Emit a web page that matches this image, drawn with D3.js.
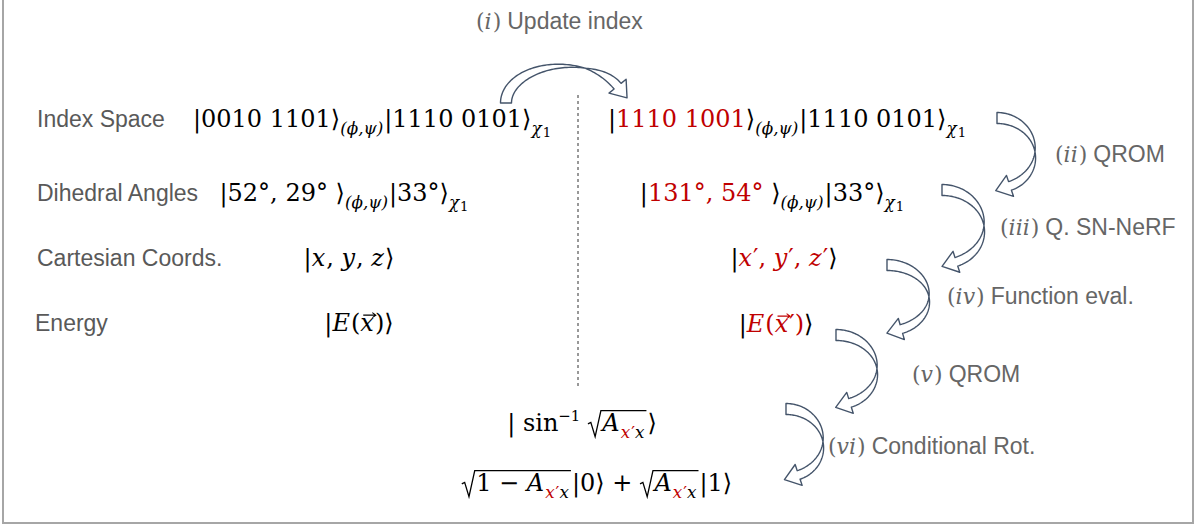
<!DOCTYPE html>
<html><head><meta charset="utf-8">
<script src="https://cdn.jsdelivr.net/npm/d3@7"></script>
<style>body{margin:0;background:#fff} text{white-space:pre}</style>
</head><body>
<svg id="c" width="1199" height="527"></svg>
<script>
// ---------- data ----------
const RED = "#c00000";
const rowLabels = ["Index Space", "Dihedral Angles", "Cartesian Coords.", "Energy"];
const phiPsi = {t: "(ϕ,ψ)", sub: 1, i: 1};
const chi1 = [{t: "χ", sub: 1, i: 1}, {t: "1", sub2: 1}];
const leftStates = [
  [{t: "|0010 1101⟩"}, phiPsi, {t: "|1110 0101⟩"}, ...chi1],
  [{t: "|52°, 29° ⟩"}, phiPsi, {t: "|33°⟩"}, ...chi1],
  [{t: "|"}, {t: "x", i: 1}, {t: ", "}, {t: "y", i: 1}, {t: ", "}, {t: "z", i: 1}, {t: "⟩"}],
  [{t: "|"}, {t: "E", i: 1}, {t: "("}, {t: "x", i: 1, vec: 1}, {t: ")"}, {t: "⟩"}]
];
const rightStates = [
  [{t: "|"}, {t: "1110 1001", c: RED}, {t: "⟩"}, phiPsi, {t: "|1110 0101⟩"}, ...chi1],
  [{t: "|"}, {t: "131°, 54°", c: RED}, {t: " ⟩"}, phiPsi, {t: "|33°⟩"}, ...chi1],
  [{t: "|"}, {t: "x", i: 1, c: RED}, {t: "′", c: RED}, {t: ", ", c: RED}, {t: "y", i: 1, c: RED}, {t: "′", c: RED}, {t: ", ", c: RED}, {t: "z", i: 1, c: RED}, {t: "′", c: RED}, {t: "⟩"}],
  [{t: "|"}, {t: "E", i: 1, c: RED}, {t: "(", c: RED}, {t: "x", i: 1, vec: 1, c: RED}, {t: "′", c: RED}, {t: ")", c: RED}, {t: "⟩"}]
];
const amp = [{t: "A", i: 1}, {t: "x", sub: 1, i: 1, c: RED}, {t: "′", sub: 1, c: RED}, {t: "x", sub: 1, i: 1}];
const ancillaStates = [
  [{t: "| sin"}, {t: "−1", sup: 1}, {t: " "}, {rad: amp}, {t: "⟩"}],
  [{rad: [{t: "1 − "}, ...amp]}, {t: "|0⟩ + "}, {rad: amp}, {t: "|1⟩"}]
];
const stepNumerals = ["i", "ii", "iii", "iv", "v", "vi"];
const stepNames = ["Update index", "QROM", "Q. SN-NeRF", "Function eval.", "QROM", "Conditional Rot."];

// ---------- layout ----------
const rowY = [127, 201, 266, 331];
const labelX = [37, 37, 37, 35];
const leftCX = [372, 344, 349, 359];      // centre x of each formula
const rightCX = [787, 772, 784, 776];
const ancillaPos = [[582, 431], [597, 491]];
const stepPos = [[476, 29], [1055, 162], [1000, 235], [947, 304], [912, 382], [828, 454]];
// arrows: ellipse centre, radii, start/end angle (deg), twist position
const arrowGeom = [
  {cx: 565, cy: 103, a: 59, b: 37, t0: 180, t1: 333, tc: 0.72},
  {cx: 997, cy: 153, a: 38, b: 35, t0: -90, t1: 70, tc: 0.55},
  {cx: 942, cy: 227, a: 42, b: 37, t0: -90, t1: 70, tc: 0.55},
  {cx: 887, cy: 298, a: 42, b: 33, t0: -90, t1: 70, tc: 0.55},
  {cx: 836, cy: 370, a: 41, b: 35, t0: -90, t1: 70, tc: 0.55},
  {cx: 786, cy: 443, a: 37, b: 34, t0: -90, t1: 70, tc: 0.55}
];

const MATH = "'DejaVu Serif','Liberation Serif',serif";
const SANS = "'Liberation Sans',Arimo,Arial,sans-serif";
const LABEL = "#595959", STEP = "#666666", ARROW = "#44546a";
const MBASE = 24;

const svg = d3.select("#c");
svg.append("rect").attr("x", 3).attr("y", -2).attr("width", 1190).attr("height", 525)
  .attr("fill", "#fff").attr("stroke", "#a6a6a6").attr("stroke-width", 2);

const yScale = d3.scaleOrdinal().domain(rowLabels).range(rowY);

// dashed divider
svg.append("line").attr("x1", 578).attr("x2", 578).attr("y1", 95).attr("y2", 388)
  .attr("stroke", "#333").attr("stroke-width", 1).attr("stroke-dasharray", "3,3");

function renderRun(g, segs, x0, y, base, color) {
  let x = x0;
  for (const s of segs) {
    if (s.rad) {
      const rx = x;
      x += base * 0.6;
      x = renderRun(g, s.rad, x, y, base, color);
      const top = y - base * 0.85;
      g.append("path")
        .attr("d", `M${rx},${y - base * 0.3} L${rx + base * 0.12},${y - base * 0.36} L${rx + base * 0.3},${y + base * 0.24} L${rx + base * 0.54},${top} H${x + 1}`)
        .attr("fill", "none").attr("stroke", color).attr("stroke-width", 1.3).attr("stroke-linejoin", "miter");
      x += 2;
      continue;
    }
    let size = base, dy = 0;
    if (s.sub) { size = base * 0.7; dy = base * 0.3; }
    if (s.sub2) { size = base * 0.55; dy = base * 0.42; }
    if (s.sup) { size = base * 0.62; dy = -base * 0.42; }
    const t = g.append("text").attr("x", x).attr("y", y + dy)
      .attr("font-family", MATH).attr("font-size", size)
      .attr("font-style", s.i ? "italic" : "normal")
      .attr("fill", s.c || color).text(s.t);
    const w = t.node().getComputedTextLength();
    if (s.vec) {
      const ya = y - size * 0.66, x1 = x + size * 0.12, x2 = x + w + size * 0.08;
      g.append("path").attr("d", `M${x1},${ya} H${x2} M${x2 - 3.5},${ya - 2.5} L${x2},${ya} L${x2 - 3.5},${ya + 2.5}`)
        .attr("fill", "none").attr("stroke", s.c || color).attr("stroke-width", 1.1);
    }
    x += w + (s.i ? 1 : 0);
  }
  return x;
}
// render a formula centred on cx
function renderCentered(parent, segs, cx, y, base, color) {
  const g = parent.append("g");
  const end = renderRun(g, segs, 0, y, base, color);
  g.attr("transform", `translate(${cx - end / 2},0)`);
}

// row labels
svg.selectAll("text.label").data(rowLabels).join("text").attr("class", "label")
  .attr("x", (d, i) => labelX[i]).attr("y", d => yScale(d))
  .attr("font-family", SANS).attr("font-size", 23).attr("fill", LABEL).text(d => d);

const gm = svg.append("g");
leftStates.forEach((f, i) => renderCentered(gm, f, leftCX[i], rowY[i], MBASE, "#000"));
rightStates.forEach((f, i) => renderCentered(gm, f, rightCX[i], rowY[i] + (i === 3 ? 1 : 0), MBASE, "#000"));
ancillaStates.forEach((f, i) => renderCentered(gm, f, ancillaPos[i][0], ancillaPos[i][1], MBASE, "#000"));

// step labels
stepNames.forEach((name, i) => {
  const [x, y] = stepPos[i];
  let xx = renderRun(gm, [{t: "("}, {t: stepNumerals[i], i: 1}, {t: ")"}], x, y, 22, STEP);
  gm.append("text").attr("x", xx + 6).attr("y", y).attr("font-family", SANS).attr("font-size", 23)
    .attr("fill", STEP).text(name);
});

// curved block arrows
function arrowPath(p) {
  const N = 80, w0 = 5.5, w1 = 4.5, hw = 11, hl = 15;
  const r = Math.PI / 180, th0 = p.t0 * r, th1 = p.t1 * r;
  const A = [], B = [];
  let last;
  for (let k = 0; k <= N; k++) {
    const t = k / N, th = th0 + (th1 - th0) * t;
    const x = p.cx + p.a * Math.cos(th), y = p.cy + p.b * Math.sin(th);
    let nx = p.b * Math.cos(th), ny = p.a * Math.sin(th);
    const nl = Math.hypot(nx, ny); nx /= nl; ny /= nl;
    const w = t < p.tc ? w0 * Math.cos(Math.PI / 2 * t / p.tc)
                       : -w1 * Math.sin(Math.PI / 2 * (t - p.tc) / (1 - p.tc));
    A.push([x + nx * w, y + ny * w]);
    B.push([x - nx * w, y - ny * w]);
    last = {x, y, nx, ny, th};
  }
  const sg = Math.sign(th1 - th0);
  let tx = -p.a * Math.sin(last.th) * sg, ty = p.b * Math.cos(last.th) * sg;
  const tl = Math.hypot(tx, ty); tx /= tl; ty /= tl;
  const pts = [...A,
    [last.x - last.nx * hw, last.y - last.ny * hw],
    [last.x + tx * hl, last.y + ty * hl],
    [last.x + last.nx * hw, last.y + last.ny * hw],
    ...B.reverse()];
  return d3.line()(pts) + "Z";
}
svg.append("g").selectAll("path").data(arrowGeom).join("path")
  .attr("d", arrowPath).attr("fill", "#fff").attr("stroke", ARROW)
  .attr("stroke-width", 1.4).attr("stroke-linejoin", "round");
</script>
</body></html>
